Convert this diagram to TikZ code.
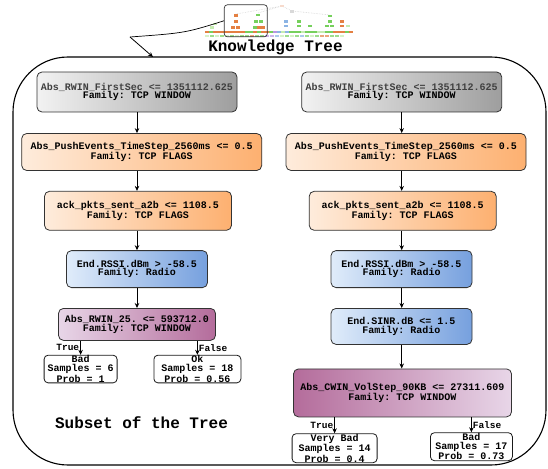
\documentclass[tikz,border=0pt]{standalone}
\usepackage{fontspec}
\setmonofont{Liberation Mono}
\usetikzlibrary{arrows.meta,positioning}
\definecolor{grayL}{RGB}{242,242,242}
\definecolor{grayR}{RGB}{158,158,158}
\definecolor{orgL}{RGB}{254,236,220}
\definecolor{orgR}{RGB}{253,176,112}
\definecolor{bluL}{RGB}{224,236,250}
\definecolor{bluR}{RGB}{118,160,222}
\definecolor{purL}{RGB}{232,214,232}
\definecolor{purR}{RGB}{180,108,155}
% tiny tree colours
\definecolor{tor}{RGB}{228,128,66}
\definecolor{tgr}{RGB}{118,208,92}
\definecolor{tlg}{RGB}{196,236,176}
\definecolor{tbl}{RGB}{140,180,228}
\definecolor{tpu}{RGB}{186,150,226}
\definecolor{tpe}{RGB}{246,218,204}

\begin{document}
\begin{tikzpicture}[x=1pt, y=-1pt,
  node distance=20pt,
  every node/.style={font=\ttfamily\bfseries\fontsize{10}{8.5}\selectfont, align=center},
  split/.style={draw=black!80, rounded corners=5pt, line width=0.8pt, inner sep=2pt},
  rwin/.style={split, left color=grayL, right color=grayR},
  flags/.style={split, left color=orgL, right color=orgR},
  radio/.style={split, left color=bluL, right color=bluR},
  win/.style={split, left color=purL, right color=purR},
  winrev/.style={split, left color=purR, right color=purL},
  leaf/.style={draw=black!90, fill=white, rounded corners=4pt, line width=0.8pt,
    inner sep=0.5pt, minimum height=27pt, font=\ttfamily\bfseries\fontsize{10}{9}\selectfont},
  arrow/.style={-{Stealth[length=5pt,width=4.5pt]}, line width=0.8pt},
  edgelbl/.style={font=\ttfamily\bfseries\fontsize{9.5}{9}\selectfont, inner sep=1pt},
  title/.style={font=\ttfamily\bfseries\fontsize{16}{16}\selectfont}
]
\useasboundingbox (0,0) rectangle (548,468);

% thumbnail of the full tree
\draw[gray!35, densely dotted, line width=0.6pt] (282,6) -- (236,14) (282,6) -- (258,13) (282,6) -- (292,11) -- (330,15);
\foreach \px/\py/\c in {282/6/tpe, 292/11.7/gray!30, 236/15.7/tor, 258/15/tgr, 330/16/tgr,
    215/24/tlg, 235.7/21.7/tor, 256.3/21.7/tgr, 261/21.7/tgr, 285.7/21.7/tbl, 299.3/21.7/tgr,
    330/21.7/tgr, 341.7/21.7/tor, 212/27.3/tlg, 233.3/27.3/tor, 237.7/27.3/tor, 255/27.3/tgr,
    259/27.3/tor, 263.3/27.3/tor, 285.7/26/tbl, 299.3/26/tgr, 310/26/tgr, 326.7/26/tgr,
    331.7/26/tgr, 341.7/26/tor, 347.7/26/tlg}
  \fill[\c] (\px-1.9,\py-1.3) rectangle ++(3.8,2.6);
\foreach \px/\c in {207/tor,211/tgr,215/tor,219/tor,223/tor,227/tor,231/tor,235/tor,239/tor,
    243/tor,247/tgr,251/tgr,255/tor,259/tgr,263/tor,267/tor,271/tgr,275/tpu,279/tbl,283/tlg,
    287/tbl,291/tgr,295/tgr,299/tgr,303/tlg,307/tgr,311/tgr,315/tgr,319/tlg,323/tlg,327/tgr,
    331/tgr,335/tor,339/tor,343/tor,347/tgr,351/tor}
  \fill[\c] (\px-1.7,30.7) rectangle ++(3.4,2.6);
\foreach \px/\c in {207/tlg,212/tgr,217/tlg,222/tgr,227/tlg,232/tgr,237/tlg,242/tgr,247/tgr,
    252/tor,257/tgr,262/tgr,267/tpu,272/tpu,277/tbl,282/tlg,287/tgr,292/tlg,297/tgr,302/tbl,
    307/tgr,312/tlg,317/tgr,322/tor,327/tor,332/tgr,337/tgr,342/tlg}
  \fill[\c!70] (\px-2,35) rectangle ++(4,2);
\node[draw=black!80, line width=0.7pt, rounded corners=3pt, minimum width=43pt,
  minimum height=32pt, inner sep=0pt] (zoombox) at (245.8,20.8) {};

\node[title] (ktitle) at (275.5,47) {Knowledge Tree};
\draw[line width=1.1pt, rounded corners=55pt] (13,57) rectangle (546,465);
\coordinate (bend) at (130,37);
\coordinate (hit) at (153,57);
\draw[line width=0.7pt] (zoombox.west) .. controls (185,33) .. (bend);
\draw[arrow] (bend) -- (hit);

% left branch
\node[rwin, minimum width=200pt, minimum height=40pt] (lroot) at (137,92)
  {\textcolor{black!75}{Abs\_RWIN\_FirstSec <= 1351112.625}\\Family: TCP WINDOW};
\node[flags, minimum width=240pt, minimum height=37pt, below=20.7pt of lroot, xshift=4.7pt] (lpush)
  {Abs\_PushEvents\_TimeStep\_2560ms <= 0.5\\Family: TCP FLAGS};
\node[flags, minimum width=187pt, minimum height=39pt, below=20pt of lpush, xshift=-3.7pt] (lack)
  {ack\_pkts\_sent\_a2b <= 1108.5\\Family: TCP FLAGS};
\node[radio, minimum width=141pt, minimum height=37pt, below=19.5pt of lack, xshift=-1pt] (lrssi)
  {End.RSSI.dBm > -58.5\\Family: Radio};
\node[win, minimum width=157pt, minimum height=32pt, below=20pt of lrssi] (lrwin)
  {Abs\_RWIN\_25. <= 593712.0\\Family: TCP WINDOW};
\node[leaf, minimum width=73pt, below=14pt of lrwin.south west, xshift=22.5pt] (lbad)
  {Bad\\Samples = 6\\Prob = 1};
\node[leaf, minimum width=87pt, below=14pt of lrwin.south east, xshift=-18.5pt] (lok)
  {Ok\\Samples = 18\\Prob = 0.56};

% right branch
\node[rwin, minimum width=200pt, minimum height=40pt] (rroot) at (401.7,92)
  {\textcolor{black!75}{Abs\_RWIN\_FirstSec <= 1351112.625}\\Family: TCP WINDOW};
\node[flags, minimum width=240pt, minimum height=37pt, below=20.7pt of rroot, xshift=4.3pt] (rpush)
  {Abs\_PushEvents\_TimeStep\_2560ms <= 0.5\\Family: TCP FLAGS};
\node[flags, minimum width=187pt, minimum height=39pt, below=20pt of rpush, xshift=-3.3pt] (rack)
  {ack\_pkts\_sent\_a2b <= 1108.5\\Family: TCP FLAGS};
\node[radio, minimum width=141pt, minimum height=37pt, below=19.5pt of rack, xshift=-1.2pt] (rrssi)
  {End.RSSI.dBm > -58.5\\Family: Radio};
\node[radio, minimum width=141pt, minimum height=36pt, below=20pt of rrssi] (rsinr)
  {End.SINR.dB <= 1.5\\Family: Radio};
\node[winrev, minimum width=218pt, minimum height=48pt, below=23.7pt of rsinr, xshift=1pt] (rcwin)
  {Abs\_CWIN\_VolStep\_90KB <= 27311.609\\Family: TCP WINDOW};
\node[leaf, minimum width=85pt, minimum height=28pt, below=16pt of rcwin.south west, xshift=41.5pt] (rvbad)
  {Very Bad\\Samples = 14\\Prob = 0.4};
\node[leaf, minimum width=82pt, minimum height=28pt, below=15pt of rcwin.south east, xshift=-40.5pt] (rbad)
  {Bad\\Samples = 17\\Prob = 0.73};

\node[title] (stitle) at (141.5,423) {Subset of the Tree};

\foreach \a/\b in {lroot/lpush, lpush/lack, lack/lrssi, lrssi/lrwin}
  \draw[arrow] (\a.south -| lroot) -- (\b.north -| lroot);
\foreach \a/\b in {rroot/rpush, rpush/rack, rack/rrssi, rrssi/rsinr, rsinr/rcwin}
  \draw[arrow] (\a.south -| rroot) -- (\b.north -| rroot);
\draw[arrow] (lrwin.south -| lbad) -- node[edgelbl, left] (ltrue) {True} (lbad.north);
\draw[arrow] (lrwin.south -| lok) -- node[edgelbl, right] (lfalse) {False} (lok.north);
\draw[arrow] (rcwin.south -| rvbad) -- node[edgelbl, left] (rtrue) {True} (rvbad.north);
\draw[arrow] (rcwin.south -| rbad) -- node[edgelbl, right] (rfalse) {False} (rbad.north);
\end{tikzpicture}
\end{document}
